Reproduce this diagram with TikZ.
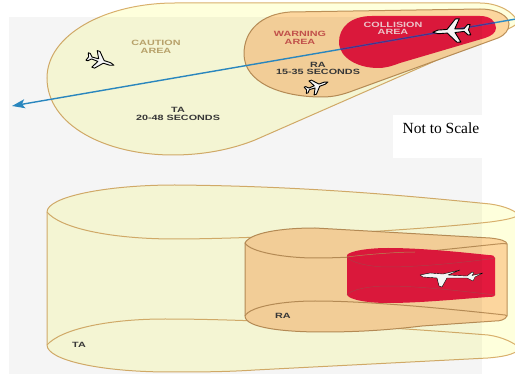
\documentclass[tikz,border=0pt]{standalone}
\usepackage{fontspec}
\setsansfont{Liberation Sans}
\setmainfont{Liberation Serif}
\usetikzlibrary{arrows.meta}
\definecolor{tayellow}{HTML}{FEFFDC}
\definecolor{taline}{HTML}{D9B06C}
\definecolor{raorange}{HTML}{FCD69E}
\definecolor{raline}{HTML}{BC9058}
\definecolor{carred}{HTML}{E3193E}
\definecolor{carline}{HTML}{B5404A}
\definecolor{linkblue}{HTML}{2B8CC6}
\definecolor{linkpurple}{HTML}{5A2A8C}
\definecolor{cautiontext}{HTML}{BFA86E}
\definecolor{warntext}{HTML}{C9544E}
\definecolor{collisiontext}{HTML}{F6CDD2}
\definecolor{darktext}{HTML}{3A3A3A}
\tikzset{
  tatext/.style={font=\sffamily\bfseries\fontsize{7.6}{7.4}\selectfont,xscale=1.42,align=center},
  planetop/.pic={
    \filldraw[fill=white,draw=black,line width=0.9pt,line join=round]
      (14,0)--(10,1.4)--(3,1.4)--(-4,9)--(-7,9)--(-3,1.4)--(-10,1)--(-13,4)--(-15,4)--(-13.5,0)
      --(-15,-4)--(-13,-4)--(-10,-1)--(-3,-1.4)--(-7,-9)--(-4,-9)--(3,-1.4)--(10,-1.4)--cycle;
  }
}
\begin{document}
\begin{tikzpicture}[x=1pt,y=-1pt,>={Stealth[length=13pt,width=9pt,inset=3pt]}]
\useasboundingbox (0,0) rectangle (515,374);
\clip (0,0) rectangle (515,374);
\coordinate (arrowtip) at (12,106);
\coordinate (arrowend) at (516,19);
% top view
\filldraw[fill=tayellow,draw=taline,line width=1pt]
  (47,78) .. controls (47,35) and (105,3) .. (175,3) -- (480,3)
  .. controls (500,3) and (516,14) .. (517,22) .. controls (517,25) and (512,27) .. (508,29)
  -- (255,140) .. controls (225,152) and (195,155) .. (173,155)
  .. controls (105,155) and (47,125) .. (47,78) -- cycle;
\filldraw[fill=raorange,draw=raline,line width=1pt]
  (244,54) .. controls (244,30) and (262,14) .. (290,12) -- (480,9)
  .. controls (497,9) and (509,16) .. (509,24) .. controls (509,30) and (505,35) .. (498,38)
  -- (355,90) .. controls (342,95) and (333,97) .. (322,97)
  .. controls (280,97) and (244,82) .. (244,54) -- cycle;
\fill[carred]
  (339,42) .. controls (339,28) and (350,16) .. (372,16) -- (480,16)
  .. controls (490,16) and (496,21) .. (496,28) .. controls (496,33) and (491,36) .. (485,38)
  -- (400,63) .. controls (392,66) and (386,68) .. (378,68)
  .. controls (358,68) and (339,58) .. (339,42) -- cycle;
\draw[->,linkblue,line width=1.4pt] (arrowend)--(arrowtip);
\begin{scope}
\clip (339,42) .. controls (339,28) and (350,16) .. (372,16) -- (480,16)
  .. controls (490,16) and (496,21) .. (496,28) .. controls (496,33) and (491,36) .. (485,38)
  -- (400,63) .. controls (392,66) and (386,68) .. (378,68)
  .. controls (358,68) and (339,58) .. (339,42) -- cycle;
\draw[linkpurple,line width=1.2pt] (arrowend)--(arrowtip);
\end{scope}
\pic[rotate=-18,scale=0.97] at (101,61) {planetop};
\pic[rotate=20,scale=0.83] at (317,86) {planetop};
\pic[rotate=184,scale=1.3] at (451,31) {planetop};
\node[tatext,text=cautiontext] (caution) at (156,47) {CAUTION\\AREA};
\node[tatext,text=darktext] (taseconds) at (178,114) {TA\\20-48 SECONDS};
\node[tatext,text=warntext] (warning) at (300,38) {WARNING\\AREA};
\node[tatext,text=collisiontext] (collision) at (393,28.5) {COLLISION\\AREA};
\node[tatext,text=darktext] (raseconds) at (318,68.5) {RA\\15-35 SECONDS};
% side view
\filldraw[fill=tayellow,draw=taline,line width=1pt]
  (47,212) .. controls (47,197) and (105,185) .. (175,185)
  .. controls (300,186) and (400,195) .. (490,204) .. controls (505,206) and (516,211) .. (520,216)
  -- (520,348) .. controls (516,355) and (500,357) .. (488,358)
  -- (255,370) .. controls (225,372) and (195,372) .. (170,372)
  .. controls (100,372) and (47,360) .. (47,345) -- cycle;
\draw[taline,line width=1pt]
  (47,212) .. controls (60,228) and (110,239) .. (175,239)
  .. controls (240,239) and (400,232) .. (490,222) .. controls (505,220) and (516,218) .. (520,214);
\draw[taline,line width=1pt]
  (47,345) .. controls (60,330) and (105,319) .. (165,319)
  .. controls (260,319) and (400,328) .. (488,335) .. controls (503,337) and (514,343) .. (520,348);
\filldraw[fill=raorange,draw=raline,line width=1pt]
  (245,243) .. controls (250,233) and (280,228) .. (315,228)
  -- (490,238) .. controls (500,239) and (507,241) .. (507,244) -- (507,316)
  .. controls (505,320) and (500,321) .. (495,321)
  -- (422,326) .. controls (380,331) and (350,332) .. (322,332)
  .. controls (285,332) and (245,328) .. (245,316) -- cycle;
\draw[raline,line width=1pt]
  (245,243) .. controls (250,252) and (285,258) .. (315,258)
  .. controls (370,258) and (440,250) .. (488,245) .. controls (498,244) and (505,243) .. (507,244);
\draw[raline,line width=1pt]
  (245,316) .. controls (250,306) and (285,301) .. (315,301)
  .. controls (370,301) and (450,309) .. (505,315) -- (507,316);
\fill[carred]
  (347,255) .. controls (350,251) and (368,248) .. (388,248)
  .. controls (420,248) and (460,252) .. (488,255) .. controls (493,255) and (495,256) .. (495,258)
  -- (495,295) .. controls (495,297) and (490,297) .. (488,297)
  .. controls (460,299) and (420,303) .. (388,303)
  .. controls (368,303) and (350,300) .. (347,295) -- cycle;
\draw[carline,line width=0.5pt]
  (347,257) .. controls (350,262) and (368,267) .. (388,267) .. controls (420,267) and (470,262) .. (495,258);
\draw[carline,line width=0.5pt]
  (347,295) .. controls (350,290) and (368,286) .. (388,286) .. controls (420,286) and (470,292) .. (495,295);
\draw[raline,line width=0.5pt]
  (347,257) .. controls (370,254) and (400,252) .. (415,252);
\filldraw[fill=white,draw=black,line width=0.4pt,line join=round]
  (420,275)--(430,273)--(443,274)--(460,270)--(448,275)--(467,276)--(472,272)--(474,273)--(472,275.5)--(483,273)
  --(475,277)--(473,281)--(471,280)--(467,278)--(447,278)--(442,287)--(439,286)--(437,278)--(423,277)--cycle;
\node[tatext,text=darktext] (ralabel) at (283,316) {RA};
\node[tatext,text=darktext] (talabel) at (79,345) {TA};
% panel over everything
\fill[black,opacity=0.04] (9,17) rectangle (482,374);
\fill[white] (393,115) rectangle (482,158);
\node[font=\rmfamily\fontsize{15.5}{16}\selectfont,text=black] (scale) at (441,128) {Not to Scale};
\end{tikzpicture}
\end{document}
